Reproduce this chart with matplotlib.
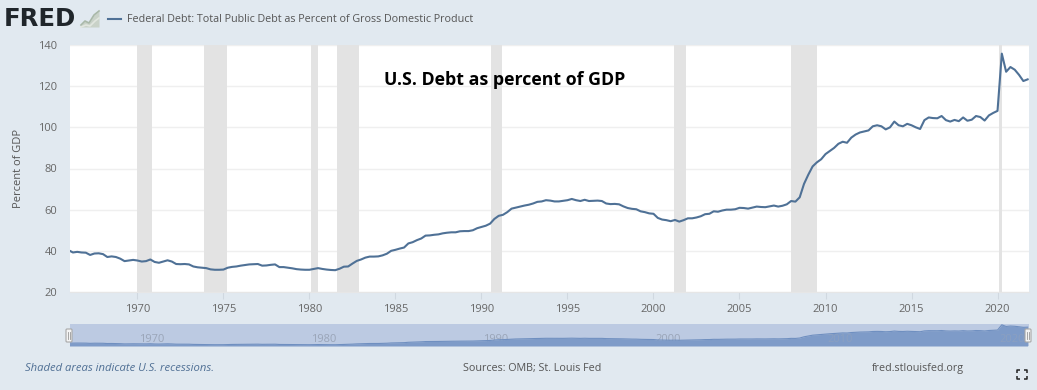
import numpy as np
import matplotlib
matplotlib.use("Agg")
import matplotlib.pyplot as plt
from matplotlib.patches import FancyBboxPatch

plt.rcParams['font.family'] = ['Open Sans', 'DejaVu Sans']

#Quarterly values
debt_1960s = [40.3,39.2,39.5,39.2, 39.1,38.0,38.7,38.8, 38.4,37.0,37.3,37.0, 36.2,35.0,35.3,35.6]
debt_1970s = [35.3,34.8,35.0,35.8, 34.6,34.2,34.8,35.4, 34.8,33.6,33.5,33.6, 33.4,32.4,32.0,31.8,
              31.6,31.0,30.8,30.8, 30.9,31.8,32.2,32.4, 32.8,33.1,33.4,33.5, 33.6,32.8,32.9,33.2,
              33.4,32.1,32.1,31.8, 31.5,31.1,30.9,30.8]
debt_1980s = [30.8,31.2,31.6,31.2, 30.9,30.7,30.6,31.3, 32.3,32.4,33.8,35.1, 35.8,36.7,37.2,37.2,
              37.3,37.8,38.6,40.0, 40.5,41.1,41.6,43.6, 44.2,45.2,46.0,47.4, 47.5,47.8,48.0,48.5,
              48.8,49.0,49.0,49.5, 49.6,49.6,50.0,51.0]
debt_1990s = [51.6,52.2,53.2,55.5, 57.0,57.5,58.8,60.5, 61.0,61.5,62.0,62.4, 63.0,63.8,64.0,64.6,
              64.4,64.0,64.0,64.3, 64.6,65.2,64.6,64.2, 64.8,64.2,64.3,64.4, 64.2,63.0,62.7,62.8,
              62.6,61.6,60.8,60.4, 60.2,59.2,58.8,58.2]
debt_2000s = [58.0,56.0,55.2,54.9, 54.4,55.0,54.2,54.9, 55.8,55.8,56.2,56.8, 57.8,58.0,59.2,59.0,
              59.6,60.0,60.0,60.2, 60.9,60.8,60.5,61.0, 61.5,61.3,61.2,61.6, 62.0,61.5,61.9,62.6,
              64.2,63.9,66.0,72.5, 77.0,81.0,83.0,84.5]
debt_2010s = [87.0,88.5,90.0,92.0, 93.0,92.5,95.0,96.5, 97.5,98.0,98.5,100.5, 101.0,100.5,99.0,100.0,
              102.8,101.0,100.5,101.7, 101.0,100.0,99.2,103.5, 104.8,104.5,104.4,105.5, 103.5,102.8,103.6,103.0,
              104.8,103.2,103.7,105.5, 105.0,103.3,105.8,107.0]
debt_2020s = [108.0,135.8,127.0,129.3, 128.0,125.5,122.5,123.3]
debt = debt_1960s+debt_1970s+debt_1980s+debt_1990s+debt_2000s+debt_2010s+debt_2020s
years = 1966+np.arange(len(debt))*0.25

recessions = [(1969.95,1970.87),(1973.88,1975.2),(1980.08,1980.5),(1981.58,1982.87),
              (1990.55,1991.2),(2001.2,2001.87),(2007.97,2009.5),(2020.08,2020.28)]
year_ticks = [1970,1975,1980,1985,1990,1995,2000,2005,2010,2015,2020]
value_ticks = [20,40,60,80,100,120,140]
nav_years = [1970,1980,1990,2000,2010,2020]

bg = "#e1e9f0"
W,H = 1037,390
fig = plt.figure(figsize=(W/100,H/100),dpi=100,facecolor=bg)

def box(x0,y0,x1,y1):
    return [x0/W,1-y1/H,(x1-x0)/W,(y1-y0)/H]

#####Main chart
ax = fig.add_axes(box(70,45,1029,292))
ax.set_facecolor("white")
ax.set_xlim(1966.08,2021.83)
ax.set_ylim(20,140)
ax.yaxis.grid(True,color="#efefef",lw=1,zorder=1)
ax.set_axisbelow(True)
for a,b in recessions:
    ax.axvspan(a,b,color="#e3e3e3",lw=0,zorder=2)
ax.plot(years,debt,color="#4f7196",lw=1.5,zorder=3,solid_joinstyle="round")
for s in ax.spines.values():
    s.set_visible(False)
ax.spines["bottom"].set_visible(True)
ax.spines["bottom"].set_color("#e6e6e6")
ax.set_xticks(year_ticks)
ax.set_yticks(value_ticks)
ax.tick_params(axis="x",length=5,width=0.8,color="#d0d8e0",labelsize=8,labelcolor="#666666",pad=4)
ax.tick_params(axis="y",length=0,labelsize=8,labelcolor="#666666",pad=9)
ax.set_ylabel("Percent of GDP",fontsize=8,color="#555555")
ax.yaxis.set_label_coords((24-70)/959,(292-168)/247)
fig.text(384/W,1-80/H,"U.S. Debt as percent of GDP",fontsize=12.8,fontweight="bold",color="black",va="center",ha="left")

#####Navigator
nav = fig.add_axes(box(70,324,1029,346))
nav.set_facecolor("#bccae2")
nav.set_xlim(1966.08,2021.83)
nav.set_ylim(24,140)
nav.fill_between(years,debt,24,color="#7e9bc8",lw=0,zorder=2)
nav.plot(years,debt,color="#6f8fc0",lw=0.8,zorder=3)
nav.set_xticks([])
nav.set_yticks([])
for s in nav.spines.values():
    s.set_visible(False)
for y in nav_years:
    nav.text(y+0.85,60,str(y),fontsize=8,color="#9aa5b8",ha="center",va="center",zorder=1 if y<2005 else 4,
             alpha=1 if y<2005 else 0.45)

#####Navigator handles
overlay = fig.add_axes([0,0,1,1],facecolor="none")
overlay.set_xlim(0,W)
overlay.set_ylim(H,0)
overlay.axis("off")
for hx in [69,1028]:
    overlay.add_patch(FancyBboxPatch((hx-3,329),6,13,boxstyle="round,pad=0,rounding_size=1",fc="#f4f4f4",ec="#a8a8a8",lw=0.8))
    overlay.plot([hx-1,hx-1],[332,339],color="#999999",lw=0.6)
    overlay.plot([hx+1,hx+1],[332,339],color="#999999",lw=0.6)

#####FRED logo
overlay.text(4,19,"FRED",fontsize=17.6,fontweight="bold",color="#20262b",family="DejaVu Sans",va="center",ha="left")
overlay.fill_between([81,85,89,94,99],[25,21,23,15,11],[27,27,27,27,27],color="#c9d2c8",lw=0)
overlay.plot([81,85,89,94,99],[25,21,23,15,11],color="#a9b8a8",lw=1.2)
overlay.plot([81,86,90,95,99],[27,25,26,21,18],color="#e1e6df",lw=1.2)

#####Legend and footer
overlay.plot([108,121],[19,19],color="#4f7196",lw=1.5)
overlay.text(127,19,"Federal Debt: Total Public Debt as Percent of Gross Domestic Product",fontsize=7.74,color="#555555",va="center",ha="left")
overlay.text(25,368.5,"Shaded areas indicate U.S. recessions.",fontsize=8.1,style="italic",color="#4f6f94",va="center",ha="left")
overlay.text(463,368.5,"Sources: OMB; St. Louis Fed",fontsize=7.77,color="#555555",va="center",ha="left")
overlay.text(872,368.5,"fred.stlouisfed.org",fontsize=7.76,color="#555555",va="center",ha="left")

#####Fullscreen icon
for cx,cy,dx,dy in [(1017,370,1,1),(1027,370,-1,1),(1017,379,1,-1),(1027,379,-1,-1)]:
    overlay.plot([cx+3*dx,cx,cx],[cy,cy,cy+3*dy],color="#222222",lw=1.1,solid_capstyle="butt")

fig.savefig("out.png",dpi=100,facecolor=bg)
